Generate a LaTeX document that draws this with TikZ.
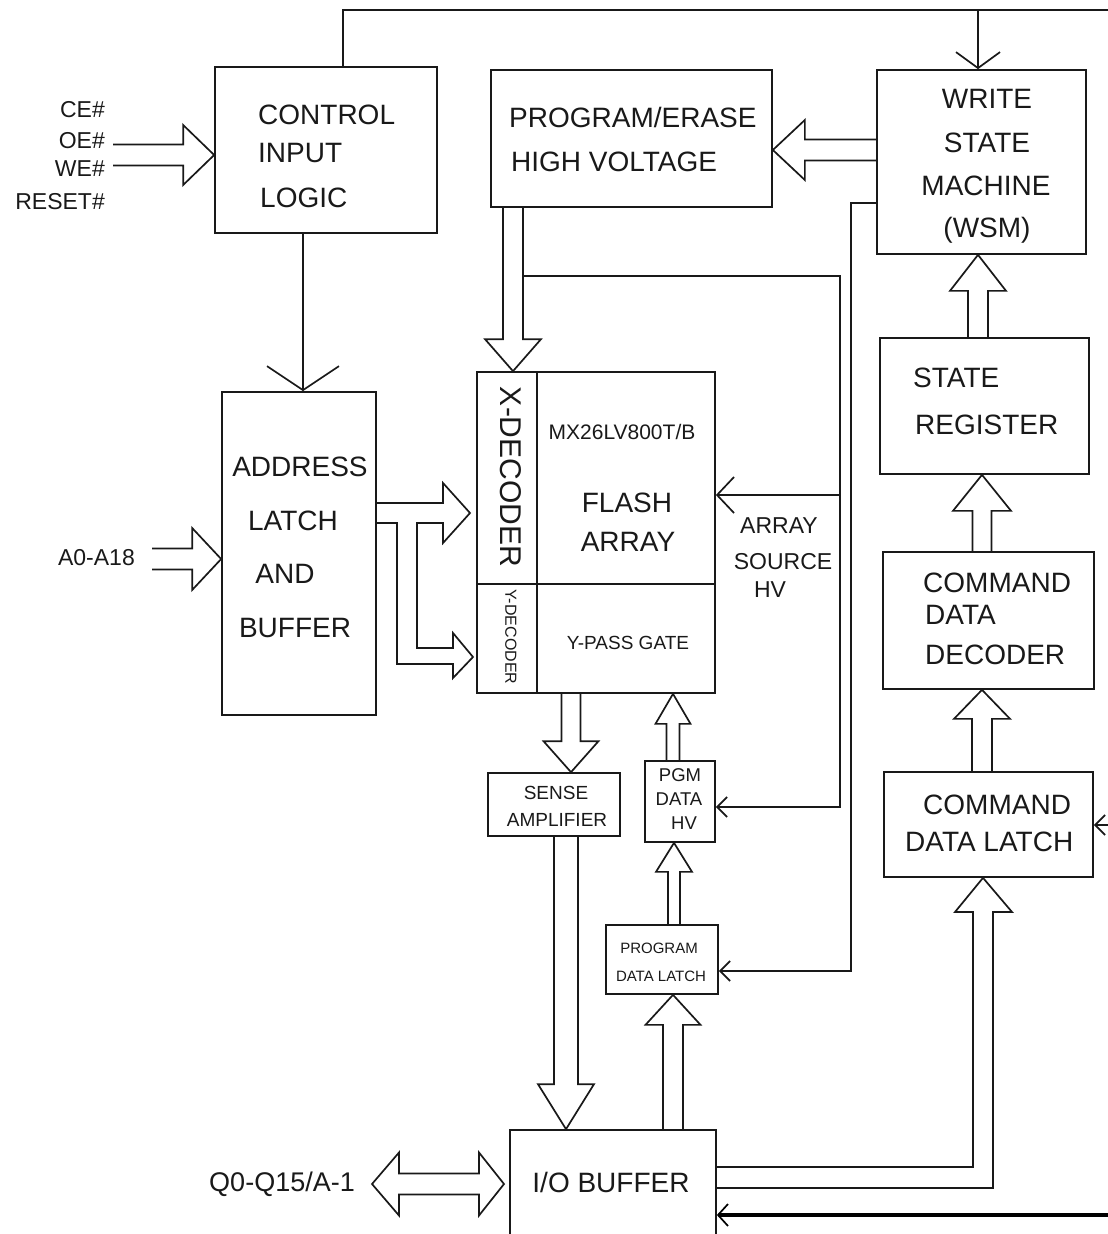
\documentclass[tikz,border=0pt]{standalone}
\usepackage{fontspec}
\setmainfont{Liberation Sans}
\usetikzlibrary{arrows.meta,calc}
\newcommand\fsz[1]{\fontsize{#1}{#1}\selectfont}
% vertical block arrow: tail, tip, half gap, half head, head length
\newcommand\vblk[5]{\draw[conn] let \p1=(#1), \p2=(#2), \n1={ifthenelse(\y2>\y1,1,-1)*(#5)}, \n2={\y2-(\n1)},
  \n3={\x2-(#3)}, \n4={\x2+(#3)}, \n5={\x2-(#4)}, \n6={\x2+(#4)} in
  (\n3,\y1) -- (\n3,\n2) -- (\n5,\n2) -- (\x2,\y2) -- (\n6,\n2) -- (\n4,\n2) -- (\n4,\y1);}
% horizontal block arrow
\newcommand\hblk[5]{\draw[conn] let \p1=(#1), \p2=(#2), \n1={ifthenelse(\x2>\x1,1,-1)*(#5)}, \n2={\x2-(\n1)},
  \n3={\y2-(#3)}, \n4={\y2+(#3)}, \n5={\y2-(#4)}, \n6={\y2+(#4)} in
  (\x1,\n3) -- (\n2,\n3) -- (\n2,\n5) -- (\x2,\y2) -- (\n2,\n6) -- (\n2,\n4) -- (\x1,\n4);}
\begin{document}
\begin{tikzpicture}[x=1pt,y=-1pt,
  box/.style={draw=black!90, line width=1.7pt, rectangle, inner sep=0pt},
  conn/.style={draw=black!90, line width=1.7pt, line join=miter},
  txt/.style={inner sep=0pt, font=\fsz{28}, text=black!90},
  small/.style={txt, font=\fsz{19}},
  barbS/.style={-{Straight Barb[length=10pt,width=20pt,line width=1.7pt]}}]
\useasboundingbox (0,0) rectangle (1108,1234);
\clip (0,0) rectangle (1108,1234);

% ---- boxes ----
\node[box, minimum width=222, minimum height=166] (ctrl)  at (326,150) {};
\node[box, minimum width=281, minimum height=137] (pehv)  at (631.5,138.5) {};
\node[box, minimum width=209, minimum height=184] (wsm)   at (981.5,162) {};
\node[box, minimum width=154, minimum height=323] (addr)  at (299,553.5) {};
\node[box, minimum width=60,  minimum height=212] (xdec)  at (507,478) {};
\node[box, minimum width=60,  minimum height=109] (ydec)  at (507,638.5) {};
\node[box, minimum width=178, minimum height=212] (farr)  at (626,478) {};
\node[box, minimum width=178, minimum height=109] (ypass) at (626,638.5) {};
\node[box, minimum width=209, minimum height=136] (sr)    at (984.5,406) {};
\node[box, minimum width=211, minimum height=137] (cdd)   at (988.5,620.5) {};
\node[box, minimum width=209, minimum height=105] (cdl)   at (988.5,824.5) {};
\node[box, minimum width=132, minimum height=63]  (sa)    at (554,804.5) {};
\node[box, minimum width=70,  minimum height=81]  (pgmhv) at (680,801.5) {};
\node[box, minimum width=112, minimum height=69]  (pdl)   at (662,959.5) {};
\node[box, minimum width=206, minimum height=130] (io)    at (613,1195) {};

% ---- texts ----
\node[txt, anchor=west] (t1) at (258,115) {CONTROL};
\node[txt, anchor=west] (t2) at (258,153) {INPUT};
\node[txt, anchor=west] (t3) at (260,198) {LOGIC};

\node[txt, anchor=west] (t4) at (509,117) {PROGRAM/ERASE};
\node[txt, anchor=west] (t5) at (511,162) {HIGH VOLTAGE};

\node[txt] (t6) at (987,99) {WRITE};
\node[txt] (t7) at (987,143) {STATE};
\node[txt] (t8) at (986,186) {MACHINE};
\node[txt] (t9) at (987,230) {(WSM)};

\node[txt] (t10) at (300,467) {ADDRESS};
\node[txt] (t11) at (293,521) {LATCH};
\node[txt] (t12) at (285,574) {AND};
\node[txt] (t13) at (295,628) {BUFFER};

\node[txt, font=\fsz{30}, rotate=-90] (t14) at (511,477) {X-DECODER};
\node[txt, font=\fsz{16}, rotate=-90] (t15) at (511,637) {Y-DECODER};
\node[txt, font=\fsz{21}] (t16) at (622,432) {MX26LV800T/B};
\node[txt] (t17) at (627,503) {FLASH};
\node[txt] (t18) at (628,542) {ARRAY};
\node[small] (t19) at (628,643) {Y-PASS GATE};

\node[txt, font=\fsz{23}] (t20) at (779,526) {ARRAY};
\node[txt, font=\fsz{23}] (t21) at (783,562) {SOURCE};
\node[txt, font=\fsz{23}] (t22) at (770,590) {HV};

\node[txt, anchor=west] (t23) at (913,378) {STATE};
\node[txt, anchor=west] (t24) at (915,425) {REGISTER};

\node[txt, anchor=west] (t25) at (923,583) {COMMAND};
\node[txt, anchor=west] (t26) at (925,615) {DATA};
\node[txt, anchor=west] (t27) at (925,655) {DECODER};

\node[txt, anchor=west] (t28) at (923,805) {COMMAND};
\node[txt, anchor=west] (t29) at (905,842) {DATA LATCH};

\node[small] (t30) at (556,793) {SENSE};
\node[small] (t31) at (557,820) {AMPLIFIER};

\node[small, font=\fsz{18.5}] (t32) at (680,775) {PGM};
\node[small, font=\fsz{18.5}] (t33) at (679,799) {DATA};
\node[small, font=\fsz{18.5}] (t34) at (684,823) {HV};

\node[txt, font=\fsz{15}] (t35) at (659,948) {PROGRAM};
\node[txt, font=\fsz{15}] (t36) at (661,976) {DATA LATCH};

\node[txt] (t37) at (611,1182) {I/O BUFFER};

\node[txt, font=\fsz{27}, anchor=east] (qlab) at (355,1184) {Q0-Q15/A-1};
\node[txt, font=\fsz{23}, anchor=east] (alab) at (135,558) {A0-A18};
\node[txt, font=\fsz{23}, anchor=east] (ce) at (105,110) {CE\#};
\node[txt, font=\fsz{23}, anchor=east] (oe) at (105,141) {OE\#};
\node[txt, font=\fsz{23}, anchor=east] (we) at (105,169) {WE\#};
\node[txt, font=\fsz{23}, anchor=east] (rst) at (105,202) {RESET\#};

% ---- free ends ----
\coordinate (busL) at (343,10);
\coordinate (busR) at (1112,10);
\coordinate (busW) at (978,10);
\coordinate (inCtl) at (113,155);
\coordinate (inAddr) at (152,559);
\coordinate (hvtap) at (523,276);
\coordinate (hvR) at (840,276);
\coordinate (srcTap) at (840,495);
\coordinate (cmdIn) at (1112,825);
\coordinate (ioIn) at (1112,1215);

% ---- thin connectors ----
\draw[conn] (343,0 |- ctrl.north) -- (busL) -- (busR);
\draw[conn, -{Straight Barb[length=16pt,width=44pt,line width=1.7pt]}] (busW) -- (978,0 |- wsm.north);
\draw[conn, -{Straight Barb[length=24pt,width=72pt,line width=1.7pt]}] (303,0 |- ctrl.south) -- (303,0 |- addr.north);
\draw[conn, barbS] (hvtap) -- (hvR) -- (840,807) -- (pgmhv.east |- 0,807);
\draw[conn, -{Straight Barb[length=17pt,width=36pt,line width=1.7pt]}] (srcTap) -- (farr.east |- srcTap);
\draw[conn, barbS] (wsm.west |- 0,203) -- (851,203) -- (851,971) -- (pdl.east |- 0,971);
\draw[conn, barbS] (cmdIn) -- (cdl.east |- cmdIn);
\draw[draw=black, line width=4pt, -{Straight Barb[length=10pt,width=22pt,line width=1.7pt]}] (ioIn) -- (io.east |- ioIn);

% ---- block arrows ----
\hblk{inCtl}{ctrl.west |- 0,155}{10.5}{30}{31}
\hblk{inAddr}{addr.west |- 0,559}{10.5}{31}{29}
\hblk{wsm.west |- 0,150}{pehv.east |- 0,150}{10.5}{30}{32}
\vblk{513,0 |- pehv.south}{513,0 |- xdec.north}{10}{28}{32}
\vblk{978,0 |- sr.north}{978,0 |- wsm.south}{10}{28}{36}
\vblk{982,0 |- cdd.north}{982,0 |- sr.south}{9.5}{29}{36}
\vblk{982,0 |- cdl.north}{982,0 |- cdd.south}{10}{28}{29}
\vblk{571,0 |- ydec.south}{571,0 |- sa.north}{9.5}{27.5}{31}
\vblk{566,0 |- sa.south}{566,0 |- io.north}{12}{28}{45}
\vblk{673,0 |- pgmhv.north}{673,0 |- ypass.south}{6.5}{17.5}{30}
\vblk{674,0 |- pdl.north}{674,0 |- pgmhv.south}{6}{18}{29}
\vblk{673,0 |- io.north}{673,0 |- pdl.south}{10}{27.5}{30}

% address latch to X/Y decoders (branching)
\draw[conn] (addr.east |- 0,503) -- (443,503) -- (443,483) -- (470,513) -- (443,543) -- (443,523)
  -- (417,523) -- (417,648) -- (453,648) -- (453,633) -- (473,657) -- (453,678) -- (453,664)
  -- (397,664) -- (397,523) -- (addr.east |- 0,523);

% I/O buffer to command data latch
\draw[conn] (io.east |- 0,1167) -- (973,1167) -- (973,912) -- (955,912) -- (983,0 |- cdl.south)
  -- (1012,912) -- (993,912) -- (993,1188) -- (io.east |- 0,1188);

% bidirectional data bus
\draw[conn] (372,1184) -- (399,1152.5) -- (399,1173.5) -- (479,1173.5) -- (479,1152.5) -- (504,1184)
  -- (479,1215.5) -- (479,1194.5) -- (399,1194.5) -- (399,1215.5) -- cycle;
\end{tikzpicture}
\end{document}
